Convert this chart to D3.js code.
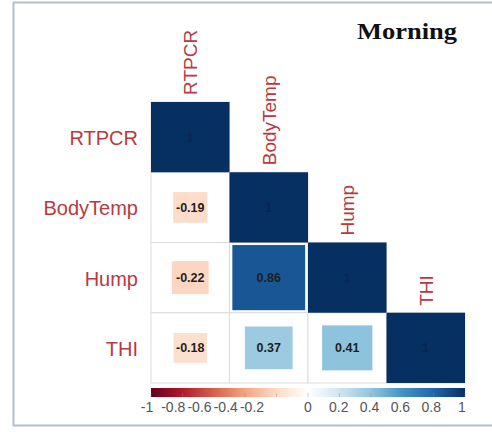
<!DOCTYPE html>
<html><head><meta charset="utf-8">
<script src="https://cdn.jsdelivr.net/npm/d3@7"></script>
<style>html,body{margin:0;padding:0;background:#fff;}svg{display:block;}</style>
</head><body>
<svg id="c" width="492" height="432"></svg>
<script>
const variables = ["RTPCR", "BodyTemp", "Hump", "THI"];
const rowRTPCR = [1];
const rowBodyTemp = [-0.19, 1];
const rowHump = [-0.22, 0.86, 1];
const rowTHI = [-0.18, 0.37, 0.41, 1];
const legendTicks = [-1, -0.8, -0.6, -0.4, -0.2, 0, 0.2, 0.4, 0.6, 0.8, 1];
const paletteStops = ["#67001F","#B2182B","#D6604D","#F4A582","#FDDBC7","#FFFFFF","#D1E5F0","#92C5DE","#4393C3","#2166AC","#053061"];
const title = "Morning";

const rows = [rowRTPCR, rowBodyTemp, rowHump, rowTHI];
const svg = d3.select("#c");
const sans = "Liberation Sans, Arial, sans-serif";

// frame
svg.append("rect").attr("x", 13.5).attr("y", 2.5).attr("width", 500).attr("height", 423)
  .attr("fill", "#fff").attr("stroke", "#b4bfcc").attr("stroke-width", 2);

const x = d3.scaleBand().domain(variables).range([151, 465]).padding(0);
const y = d3.scaleBand().domain(variables).range([102, 383]).padding(0);
const color = d3.scaleLinear().domain(d3.range(11).map(i => -1 + i * 0.2)).range(paletteStops);
const size = d3.scaleSqrt().domain([0, 1]).range([0, 1]);

const cells = [];
rows.forEach((r, i) => r.forEach((v, j) => cells.push({row: variables[i], col: variables[j], v})));

const g = svg.append("g");
g.selectAll("rect.grid").data(cells).join("rect").attr("class", "grid")
  .attr("x", d => x(d.col)).attr("y", d => y(d.row))
  .attr("width", x.bandwidth()).attr("height", y.bandwidth())
  .attr("fill", "#fff").attr("stroke", "#dcdcdc").attr("stroke-width", 1);
g.selectAll("rect.sq").data(cells).join("rect").attr("class", "sq")
  .attr("x", d => x(d.col) + x.bandwidth() * (1 - size(Math.abs(d.v))) / 2)
  .attr("y", d => y(d.row) + y.bandwidth() * (1 - size(Math.abs(d.v))) / 2)
  .attr("width", d => x.bandwidth() * size(Math.abs(d.v)))
  .attr("height", d => y.bandwidth() * size(Math.abs(d.v)))
  .attr("fill", d => color(d.v));
g.selectAll("text.num").data(cells).join("text").attr("class", "num")
  .attr("x", d => x(d.col) + x.bandwidth() / 2)
  .attr("y", d => y(d.row) + y.bandwidth() / 2)
  .attr("dy", "0.35em").attr("text-anchor", "middle")
  .attr("font-family", sans).attr("font-weight", "bold")
  .attr("font-size", 12.5).attr("fill", d => d.v === 1 ? "#0d2550" : "#1e1e1e")
  .text(d => d.v === 1 ? "1" : d.v.toFixed(2));

// row labels
svg.selectAll("text.rl").data(variables).join("text").attr("class", "rl")
  .attr("x", 138).attr("y", d => y(d) + y.bandwidth() / 2 + 1).attr("dy", "0.35em")
  .attr("text-anchor", "end").attr("font-family", sans)
  .attr("font-size", 20).attr("fill", "#b63a40").text(d => d);
// column labels
svg.selectAll("text.cl").data(variables).join("text").attr("class", "cl")
  .attr("transform", d => `translate(${x(d) + x.bandwidth() / 2 + 7},${y(d) - 7}) rotate(-90)`)
  .attr("text-anchor", "start").attr("font-family", sans)
  .attr("font-size", 19).attr("fill", "#b63a40").text(d => d);

// title
svg.append("text").attr("x", 357).attr("y", 39)
  .attr("font-family", "Liberation Serif, Times New Roman, serif").attr("font-weight", "bold")
  .attr("font-size", 24).attr("textLength", 100).attr("lengthAdjust", "spacingAndGlyphs")
  .attr("fill", "#111").text(title);

// colour legend
const defs = svg.append("defs");
const grad = defs.append("linearGradient").attr("id", "lg").attr("x1", "0%").attr("x2", "100%");
paletteStops.forEach((c, i) => grad.append("stop").attr("offset", (i * 10) + "%").attr("stop-color", c));
const lx = d3.scaleLinear().domain([-1, 1]).range([151, 465]);
const labelX = d3.scaleLinear().domain([-1, -0.2, 0, 1]).range([147, 252, 308, 462]);
svg.append("rect").attr("x", 151).attr("y", 388).attr("width", 314).attr("height", 9).attr("fill", "url(#lg)");
svg.selectAll("line.lt").data(legendTicks).join("line").attr("class", "lt")
  .attr("x1", d => lx(d)).attr("x2", d => lx(d)).attr("y1", 393).attr("y2", 397)
  .attr("stroke", "#888").attr("stroke-opacity", 0.4);
svg.selectAll("text.lt").data(legendTicks).join("text").attr("class", "lt")
  .attr("x", d => labelX(d)).attr("y", 412)
  .attr("text-anchor", "middle").attr("font-family", sans)
  .attr("font-size", 14).attr("fill", "#555").text(d => String(d));
</script>
</body></html>
